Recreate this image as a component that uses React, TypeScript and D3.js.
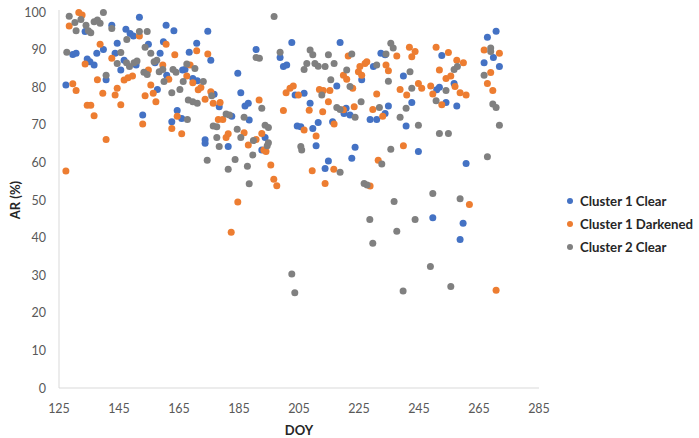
import { useEffect, useRef } from "react";
import * as d3 from "d3";

type Pt = [number, number];

const X_TICKS = [125, 145, 165, 185, 205, 225, 245, 265, 285];
const Y_TICKS = [0, 10, 20, 30, 40, 50, 60, 70, 80, 90, 100];

const CLUSTER1_CLEAR: Pt[] = [
  [127.3, 80.6], [129.6, 88.7], [130.7, 89], [133.7, 94.8], [134.4, 87.5], [135.3, 86.8], [136.7, 85.9],
  [137.6, 89], [139.8, 90], [140.7, 82], [142.6, 96.5], [143.7, 89], [144.4, 91.7], [145.6, 84.6],
  [146.7, 87.2], [147.3, 95.4], [148.7, 94.3], [149.8, 93.6], [150.7, 85.9], [151.8, 98.6], [152.9, 72.6],
  [154.8, 91.4], [157, 86.5], [157.8, 79.4], [158.7, 89], [159.8, 92.1], [160.7, 96.5], [160.9, 83.2],
  [162.6, 70.8], [163.3, 95], [164.4, 73.8], [165.9, 71.7], [166.2, 84.6], [167, 84.7], [168.4, 89.3],
  [169.6, 82.3], [170.9, 91.7], [171.1, 81.7], [173.7, 66], [173.7, 65.1], [174.6, 94.9], [175.6, 87.2],
  [176.7, 78.1], [178.4, 74.8], [181.4, 64.2], [182.6, 72.3], [184.6, 83.7], [185.6, 78.5], [187, 75],
  [188.1, 75.7], [188.4, 71.3], [190.7, 90], [192.6, 63.3], [193.7, 66.6], [198.7, 87.9], [199.8, 85.5],
  [200.9, 85.9], [202.6, 91.9], [203.7, 77.9], [204.4, 69.7], [205.6, 69.5], [206.7, 78.4], [208.7, 75.7],
  [209.6, 69], [210.7, 64.4], [211.4, 70.6], [213.7, 58.4], [214.8, 60.4], [216.2, 70.8], [217.6, 80.3],
  [218.7, 91.9], [220.7, 74.4], [220, 73], [222, 72.6], [222.6, 61.1], [223.7, 64], [225.9, 82],
  [228.7, 71.4], [229.8, 85.5], [230.9, 71.4], [232.3, 89], [233.7, 88.6], [233.7, 73], [234.8, 75],
  [239.8, 83], [240.7, 69.7], [242.6, 75.9], [244.8, 62.9], [249.6, 45.3], [250.9, 79.3], [251.8, 80],
  [252.6, 88.4], [254, 75.9], [256.7, 81], [257.6, 75], [258.7, 39.5], [259.7, 43.8], [260.7, 59.7],
  [266.7, 86.5], [267.8, 93.3], [269.8, 87.9], [270.7, 94.9], [271.8, 85.5],
];

const CLUSTER1_DARK: Pt[] = [
  [127.3, 57.7], [128.4, 96.3], [129.6, 80.9], [130.7, 79.1], [131.6, 99.9], [132.7, 99.2], [133.7, 86.2],
  [134.4, 75.2], [135.6, 75.2], [136.7, 72.4], [137.8, 82], [138.7, 91.4], [139.6, 78.4], [140.7, 66.1],
  [142.6, 87.7], [143.7, 77.9], [144.4, 79.7], [145.6, 75.3], [146.7, 81.9], [148, 82.5], [149.5, 83],
  [151.8, 93.6], [152.9, 70.2], [153.7, 77.7], [154.8, 84.6], [155.6, 80.6], [156.4, 78.4], [157.3, 76.1],
  [159.6, 85.9], [160.7, 91.4], [161.6, 82.1], [162.6, 69], [163.6, 88.6], [164.4, 72.3], [165.9, 67.6],
  [167.6, 83], [168.7, 85.9], [169.6, 81.2], [170.9, 89.7], [171.4, 79.3], [172.3, 79.9], [173.7, 76.8],
  [174.6, 88.8], [175.6, 78.8], [176.4, 75.7], [178.1, 71.4], [178.7, 75.9], [179.6, 71.4], [180.7, 66.6],
  [181.4, 67.6], [182.4, 41.4], [184.6, 49.5], [186.7, 67.9], [188.1, 64.6], [190.7, 66.1], [191.7, 76.6],
  [192.6, 67.7], [193.3, 63.3], [194, 62.9], [195.6, 59.3], [196.6, 55.5], [197.6, 53.8], [199.8, 73.8],
  [200.7, 78.5], [202, 79.7], [203.1, 80.3], [204.8, 77.9], [206.7, 68.6], [208.4, 73.9], [209.4, 57.8],
  [210.7, 67], [211.8, 79.4], [212.9, 73.5], [213.1, 79.1], [213.7, 54.4], [214.8, 76.1], [215.3, 79.1],
  [216.6, 58.2], [216.7, 70.2], [219.8, 83.2], [219.8, 74], [220.9, 82.1], [221.4, 88.3], [222.9, 79.7],
  [223.4, 74.8], [224.8, 84.1], [225.3, 85.5], [225.9, 83.2], [227, 86.3], [227.6, 86.8], [228.7, 53.7],
  [229.6, 74.1], [230.9, 78.2], [231.4, 60.6], [232.9, 72.3], [234, 85.9], [234.8, 84.4], [237.6, 88.3],
  [238.7, 79.4], [239.8, 64.4], [240.9, 77.9], [241.8, 90.6], [242.6, 88.1], [243.7, 89.5], [244.8, 81],
  [245.9, 79.7], [248.9, 80.3], [249.6, 78.2], [250.7, 90.6], [251.8, 84.6], [252.6, 75.3], [254, 82.3],
  [254.8, 89.2], [255.6, 83], [257, 80.2], [257.6, 87.2], [258.7, 78.5], [259.8, 86.5], [260.7, 77.9],
  [261.8, 48.8], [266.7, 89.9], [267.8, 81], [268.9, 83.9], [269.6, 79.1], [270.7, 26], [271.8, 89],
];

const CLUSTER2_CLEAR: Pt[] = [
  [127.6, 89.3], [128.4, 98.9], [130.3, 97.2], [130.7, 95], [132.3, 98], [134, 96.5], [134.8, 95],
  [135.6, 94.5], [136.7, 97.4], [137.8, 97.9], [138.7, 97], [139.8, 99.9], [140.7, 83.2], [142.6, 95.6],
  [144.4, 86.3], [145.6, 89.2], [147.6, 92.7], [147.5, 86.5], [148.5, 85.5], [150, 86.5], [151, 87],
  [151.8, 94.8], [153.3, 84], [153.7, 90.6], [154.4, 83.4], [154.4, 94.8], [155.6, 89], [156.7, 86.8],
  [157.6, 87.2], [158.4, 84.1], [159.6, 84.7], [160, 81.5], [162.6, 78.5], [163, 84.7], [164, 84],
  [165.3, 79.4], [166.4, 81.5], [167.6, 86.2], [167.8, 71.4], [168.1, 76.6], [169.6, 76.1], [170.3, 85],
  [171.1, 75.7], [173.1, 81.5], [174.4, 60.6], [175.9, 77.7], [176.4, 69.7], [177.6, 69.5], [177.6, 66.6],
  [178.4, 64.2], [180.7, 72.9], [181.4, 58.2], [181.8, 72.6], [183.7, 60.8], [184.4, 68.8], [185.6, 66.6],
  [186.7, 72], [187.8, 59], [188.4, 54.3], [189.6, 62], [189.8, 65.8], [190.7, 87.9], [191.8, 87.7],
  [192.6, 74.4], [193.7, 69.9], [194.8, 69.3], [194.8, 65.2], [194.4, 64.4], [196.7, 98.8], [198.7, 89.3],
  [202.6, 30.3], [203.6, 25.3], [205.6, 64.2], [205.9, 63.3], [206.7, 84.7], [207.6, 86.3], [208.7, 89.9],
  [209.6, 88.6], [210.3, 86.3], [211.4, 85.6], [212.6, 77.9], [213.7, 85.5], [214.8, 88.6], [215.6, 82],
  [216.7, 86.3], [217.6, 74.6], [218.7, 74.1], [218.7, 57.4], [220.9, 84.6], [222, 80.2], [222.6, 88.8],
  [223.7, 72], [225.7, 76.1], [226.7, 54.4], [227.7, 54], [228.6, 44.8], [229.6, 38.5], [230.9, 85.9],
  [231.8, 74.6], [232.6, 59.6], [234, 88.8], [234.8, 81.6], [235.6, 91.7], [235.6, 63.5], [236.4, 90.4],
  [236.7, 49.6], [237.6, 41.7], [238.7, 72], [239.7, 25.8], [240.7, 74.4], [242, 84.1], [242.6, 79.7],
  [243.7, 44.8], [244.8, 69.9], [248.8, 32.3], [249.6, 51.7], [250.7, 76.4], [251.8, 67.7], [254, 79.1],
  [254.8, 67.7], [255.6, 27], [256.7, 84.7], [257.8, 85.5], [258.7, 50.3], [266.7, 83.2], [267.8, 61.5],
  [268.9, 90.4], [268.9, 89.5], [269.6, 75.5], [270.7, 74.6], [271.8, 69.9],
];

const SERIES = [
  { label: "Cluster 1 Clear", color: "#4472C4", pts: CLUSTER1_CLEAR },
  { label: "Cluster 1 Darkened", color: "#ED7D31", pts: CLUSTER1_DARK },
  { label: "Cluster 2 Clear", color: "#808080", pts: CLUSTER2_CLEAR },
];

export default function App() {
  const ref = useRef<SVGSVGElement>(null);

  useEffect(() => {
    const el = ref.current;
    if (!el) return;
    const W = 699, H = 438;
    const M = { top: 12, right: 160, bottom: 50, left: 59 };
    const svg = d3.select(el).attr("width", W).attr("height", H);
    svg.selectAll("*").remove();
    const font = "Lato, 'Open Sans', sans-serif";

    const x = d3.scaleLinear().domain([125, 285]).range([M.left, W - M.right]);
    const y = d3.scaleLinear().domain([0, 100]).range([H - M.bottom, M.top]);

    // axis lines
    svg.append("line").attr("x1", x(125)).attr("x2", x(125)).attr("y1", y(100) - 2).attr("y2", y(0))
      .attr("stroke", "#D9D9D9").attr("stroke-width", 1);
    svg.append("line").attr("x1", x(125)).attr("x2", x(285)).attr("y1", y(0)).attr("y2", y(0))
      .attr("stroke", "#D9D9D9").attr("stroke-width", 1);

    svg.append("g").selectAll("text").data(Y_TICKS).join("text")
      .attr("x", x(125) - 13).attr("y", (d) => y(d) + 4.5).attr("text-anchor", "end")
      .attr("font-family", font).attr("font-size", 12.5).attr("fill", "#595959").text((d) => d);

    svg.append("g").selectAll("text").data(X_TICKS).join("text")
      .attr("x", (d) => x(d)).attr("y", y(0) + 25).attr("text-anchor", "middle")
      .attr("font-family", font).attr("font-size", 12.5).attr("fill", "#595959").text((d) => d);

    svg.append("text").attr("x", (x(125) + x(285)) / 2).attr("y", H - 3).attr("text-anchor", "middle")
      .attr("font-family", font).attr("font-weight", "bold").attr("font-size", 13).attr("fill", "#262626").text("DOY");

    svg.append("text").attr("transform", `translate(20,${(y(0) + y(100)) / 2}) rotate(-90)`).attr("text-anchor", "middle")
      .attr("font-family", font).attr("font-weight", "bold").attr("font-size", 13).attr("fill", "#262626").text("AR (%)");

    SERIES.forEach((s) => {
      svg.append("g").selectAll("circle").data(s.pts).join("circle")
        .attr("cx", (d) => x(d[0])).attr("cy", (d) => y(d[1])).attr("r", 3.5).attr("fill", s.color);
    });

    const lg = svg.append("g").attr("transform", "translate(570,201)");
    SERIES.forEach((s, i) => {
      lg.append("circle").attr("cx", 0).attr("cy", i * 23).attr("r", 3).attr("fill", s.color);
      lg.append("text").attr("x", 10).attr("y", i * 23 + 4.5).attr("font-family", font).attr("font-weight", "bold")
        .attr("font-size", 13.2).attr("fill", "#262626").text(s.label);
    });
  }, []);

  return (
    <div style={{ position: "absolute", left: 0, top: 0 }}>
      <svg ref={ref} role="img" aria-label="AR vs DOY scatter" />
    </div>
  );
}
